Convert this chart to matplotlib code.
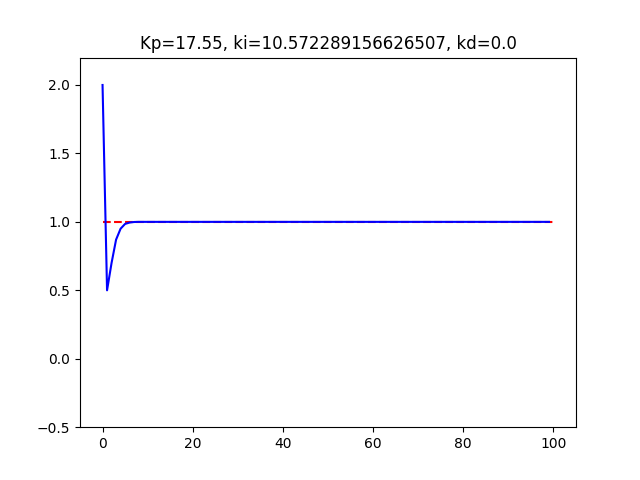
import numpy as np
import matplotlib
matplotlib.use('Agg')
import matplotlib.pyplot as plt

Kp = 17.55
ki = 10.572289156626507
kd = 0.0

response = [2.0, 0.5, 0.70, 0.87, 0.95, 0.985, 0.995, 0.999] + [1.0] * 92
setpoint = [1.0, 1.0]
setpoint_t = [0, 100]

t = np.arange(len(response))

plt.figure(figsize=(6.4, 4.8), dpi=100)
plt.plot(setpoint_t, setpoint, 'r--')
plt.plot(t, response, 'b')
plt.ylim([-0.5, 2.2])
plt.title('Kp={}, ki={}, kd={}'.format(Kp, ki, kd))
plt.savefig('out.png')
